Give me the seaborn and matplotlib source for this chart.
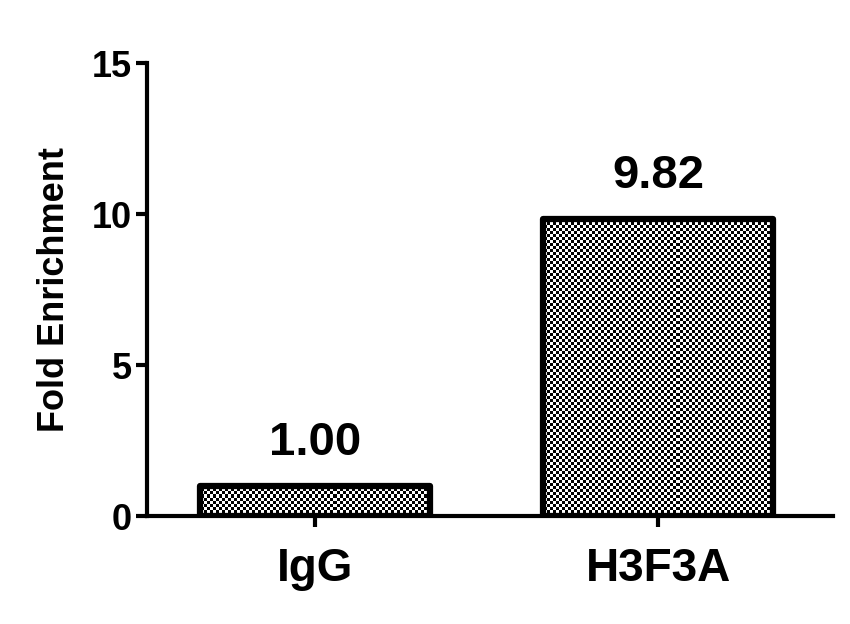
import numpy as np
import pandas as pd
import seaborn as sns
import matplotlib.pyplot as plt

# data
groups = ['IgG', 'H3F3A']
fold_enrichment = [1.00, 9.82]
value_labels = ['1.00', '9.82']
y_ticks = [0, 5, 10, 15]


def main():
    df = pd.DataFrame({'group': groups, 'value': fold_enrichment})

    sns.set_theme(style='ticks')
    plt.rcParams['font.family'] = ['Liberation Sans', 'DejaVu Sans']
    plt.rcParams['font.weight'] = 'bold'
    plt.rcParams['text.color'] = 'black'
    plt.rcParams['axes.labelcolor'] = 'black'
    plt.rcParams['xtick.color'] = 'black'
    plt.rcParams['ytick.color'] = 'black'

    fig = plt.figure(figsize=(8.5, 6.24), dpi=100)
    ax = fig.add_axes([0.173, 0.173, 0.807, 0.726])

    sns.barplot(data=df, x='group', y='value', color='white', width=0.67,
                edgecolor='black', linewidth=4.5, ax=ax)

    # checkerboard fill clipped to each bar
    cell = 3
    w_px, h_px = int(0.807 * 850), int(0.726 * 624)
    yy, xx = np.mgrid[0:h_px // cell, 0:w_px // cell]
    board = ((xx + yy) % 2).astype(float)
    for bar in ax.patches:
        bar.set_joinstyle('round')
        im = ax.imshow(board, cmap='gray', vmin=0, vmax=1, interpolation='nearest',
                       extent=[0, 1, 0, 1], transform=ax.transAxes, aspect='auto', zorder=1.5)
        im.set_clip_path(bar)
        bar.set_zorder(2)
        bar.set_facecolor('none')

    for i, (v, lab) in enumerate(zip(fold_enrichment, value_labels)):
        ax.text(i, v + 1.03, lab, ha='center', va='baseline', fontsize=34, fontweight='bold')

    ax.set_xlim(-0.49, 1.51)
    ax.set_ylim(0, 15)
    ax.set_yticks(y_ticks)
    ax.set_xlabel('')
    ax.set_ylabel('Fold Enrichment', fontsize=26, fontweight='bold', labelpad=14)
    ax.tick_params(axis='both', width=3, length=8)
    ax.tick_params(axis='x', labelsize=33, pad=14)
    ax.tick_params(axis='y', labelsize=26, pad=3)
    for t in ax.get_xticklabels() + ax.get_yticklabels():
        t.set_fontweight('bold')
    sns.despine(ax=ax)
    for s in ['left', 'bottom']:
        ax.spines[s].set_linewidth(3)
        ax.spines[s].set_color('black')

    fig.savefig('out.png', dpi=100)


if __name__ == '__main__':
    main()
